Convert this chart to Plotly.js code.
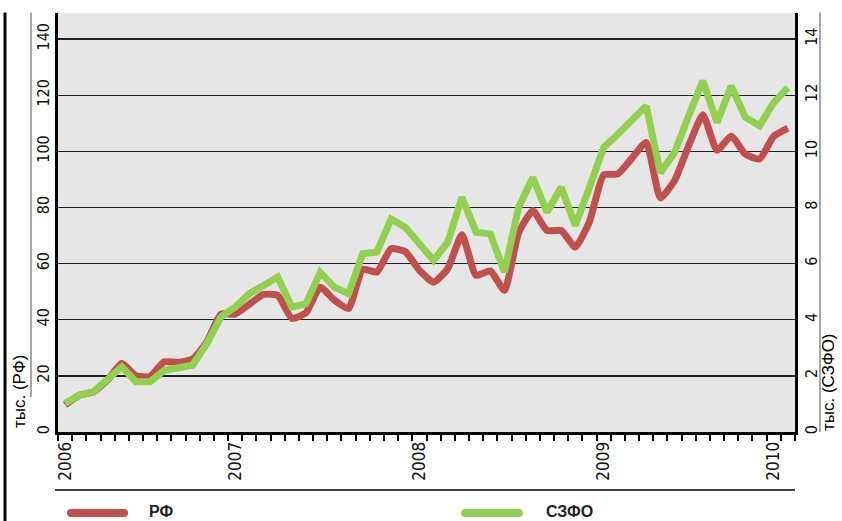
<!DOCTYPE html>
<html>
<head>
<meta charset="utf-8">
<script src="https://cdn.plot.ly/plotly-3.0.1.min.js"></script>
<style>html,body{margin:0;padding:0;background:#fff;}#chart{width:842px;height:521px;}</style>
</head>
<body>
<div id="chart"></div>
<script>
// ---- data ----
const yearLabels = ['2006', '2007', '2008', '2009', '2010'];
const yearIndex = [0, 12, 25, 38, 50];
const rfValues = [9.6, 13.1, 14.3, 18.5, 24.5, 20.0, 19.8, 25.0, 24.8, 26.0,
  32.1, 42.0, 42.0, 45.5, 49.0, 48.7, 40.5, 42.5, 51.6, 47.0,
  44.0, 58.0, 57.0, 65.3, 64.3, 57.6, 53.4, 58.2, 70.3, 55.8,
  57.4, 50.5, 71.0, 78.8, 71.8, 71.8, 65.9, 75.0, 91.6, 92.0,
  97.6, 103.2, 83.4, 89.6, 102.0, 113.0, 100.4, 105.4, 99.0, 97.3,
  105.4, 108.3];
const szfoValues = [1.02, 1.31, 1.43, 1.85, 2.32, 1.79, 1.79, 2.2, 2.26, 2.38,
  3.15, 4.10, 4.45, 4.93, 5.22, 5.52, 4.45, 4.57, 5.69, 5.16,
  4.93, 6.35, 6.41, 7.59, 7.30, 6.71, 6.12, 6.76, 8.36, 7.12,
  7.06, 5.70, 8.01, 9.07, 7.83, 8.72, 7.36, 8.72, 10.14, 10.61,
  11.15, 11.62, 9.24, 9.96, 11.27, 12.51, 11.03, 12.33, 11.21, 10.91,
  11.74, 12.27];
const leftTicks = [0, 20, 40, 60, 80, 100, 120, 140];
const rightTicks = [0, 2, 4, 6, 8, 10, 12, 14];
const seriesNames = ['РФ', 'СЗФО'];
const leftTitle = 'тыс. (РФ)';
const rightTitle = 'тыс. (СЗФО)';

// ---- geometry ----
const W = 842, H = 521;
const ML = 58, MR = 47, MT = 12.5, MB = 89;
const PW = W - ML - MR, PH = H - MT - MB;
const px = x => (x - ML) / PW;
const py = y => (H - MB - y) / PH;

const RED = '#c0504d', GREEN = '#92d050';
const NARROW = '"Liberation Sans Narrow", "Arial Narrow", "DejaVu Sans Condensed", sans-serif';
const SANS = '"Liberation Sans", Arial, sans-serif';

const xIdx = rfValues.map((_, i) => i);

const traces = [
  {x: xIdx, y: rfValues, name: seriesNames[0], type: 'scatter', mode: 'lines',
   line: {color: RED, width: 7, shape: 'spline', smoothing: 0.5}, yaxis: 'y'},
  {x: xIdx, y: szfoValues, name: seriesNames[1], type: 'scatter', mode: 'lines',
   line: {color: GREEN, width: 7}, yaxis: 'y2'}
];

function roundBar(x0, x1, yc, h, color) {
  const r = h / 2;
  const X0 = px(x0), X1 = px(x1), Xr0 = px(x0 + r), Xr1 = px(x1 - r);
  const Yt = py(yc - r), Yb = py(yc + r), Ym = py(yc);
  return {type: 'path', xref: 'paper', yref: 'paper', fillcolor: color, line: {width: 0},
    path: `M ${Xr0} ${Yt} L ${Xr1} ${Yt} Q ${X1} ${Yt} ${X1} ${Ym} Q ${X1} ${Yb} ${Xr1} ${Yb} L ${Xr0} ${Yb} Q ${X0} ${Yb} ${X0} ${Ym} Q ${X0} ${Yt} ${Xr0} ${Yt} Z`};
}

const shapes = [
  {type: 'line', xref: 'paper', yref: 'paper', x0: px(5), x1: px(5), y0: py(521), y1: py(12), line: {color: '#000', width: 3}},
  {type: 'line', xref: 'paper', yref: 'paper', x0: px(31), x1: px(31), y0: py(397), y1: py(12), line: {color: '#8a8a8a', width: 1.5}},
  {type: 'line', xref: 'paper', yref: 'paper', x0: px(820), x1: px(820), y0: py(432), y1: py(12), line: {color: '#8a8a8a', width: 1.5}},
  {type: 'line', xref: 'paper', yref: 'paper', x0: px(55), x1: px(795), y0: py(490), y1: py(490), line: {color: '#000', width: 1.5}},
  roundBar(67, 128, 513, 8, RED),
  roundBar(461, 523, 513, 8, GREEN)
];

const annotations = [
  {xref: 'paper', yref: 'paper', x: px(19), y: py(392), text: leftTitle, showarrow: false, textangle: -90,
   font: {family: SANS, size: 17, color: '#000'}, xanchor: 'center', yanchor: 'middle'},
  {xref: 'paper', yref: 'paper', x: px(828), y: py(382), text: rightTitle, showarrow: false, textangle: -90,
   font: {family: SANS, size: 17, color: '#000'}, xanchor: 'center', yanchor: 'middle'},
  {xref: 'paper', yref: 'paper', x: px(147), y: py(512), text: '<b>' + seriesNames[0] + '</b>', showarrow: false,
   font: {family: SANS, size: 16, color: '#222'}, xanchor: 'left', yanchor: 'middle'},
  {xref: 'paper', yref: 'paper', x: px(544), y: py(512), text: '<b>' + seriesNames[1] + '</b>', showarrow: false,
   font: {family: SANS, size: 16, color: '#222'}, xanchor: 'left', yanchor: 'middle'}
];

const layout = {
  width: W, height: H,
  margin: {l: ML, r: MR, t: MT, b: MB, pad: 0},
  paper_bgcolor: '#ffffff', plot_bgcolor: '#e6e6e6',
  showlegend: false,
  xaxis: {
    range: [-0.5, 51.5], tickmode: 'array', tickvals: yearIndex, ticktext: yearLabels,
    tickangle: -90, ticks: '', showgrid: false, zeroline: false,
    showline: true, linecolor: '#000', linewidth: 3,
    tickfont: {family: NARROW, size: 17, color: '#111'},
    minor: {ticks: 'outside', tickmode: 'linear', tick0: -0.5, dtick: 1, ticklen: 6, tickwidth: 2, tickcolor: '#000', showgrid: false},
    fixedrange: true
  },
  yaxis: {
    range: [0, 149.3], tickmode: 'array', tickvals: leftTicks, tickangle: -90,
    showgrid: true, gridcolor: '#222', gridwidth: 1.3, zeroline: false,
    showline: true, linecolor: '#000', linewidth: 3, ticks: '',
    tickfont: {family: NARROW, size: 16, color: '#111'}, fixedrange: true
  },
  yaxis2: {
    overlaying: 'y', side: 'right', range: [0, 14.93], tickmode: 'array', tickvals: rightTicks, tickangle: -90,
    showgrid: false, zeroline: false, showline: true, linecolor: '#000', linewidth: 3, ticks: '',
    tickfont: {family: NARROW, size: 16, color: '#111'}, fixedrange: true
  },
  shapes: shapes,
  annotations: annotations
};

Plotly.newPlot('chart', traces, layout, {displayModeBar: false, staticPlot: true});
</script>
</body>
</html>
